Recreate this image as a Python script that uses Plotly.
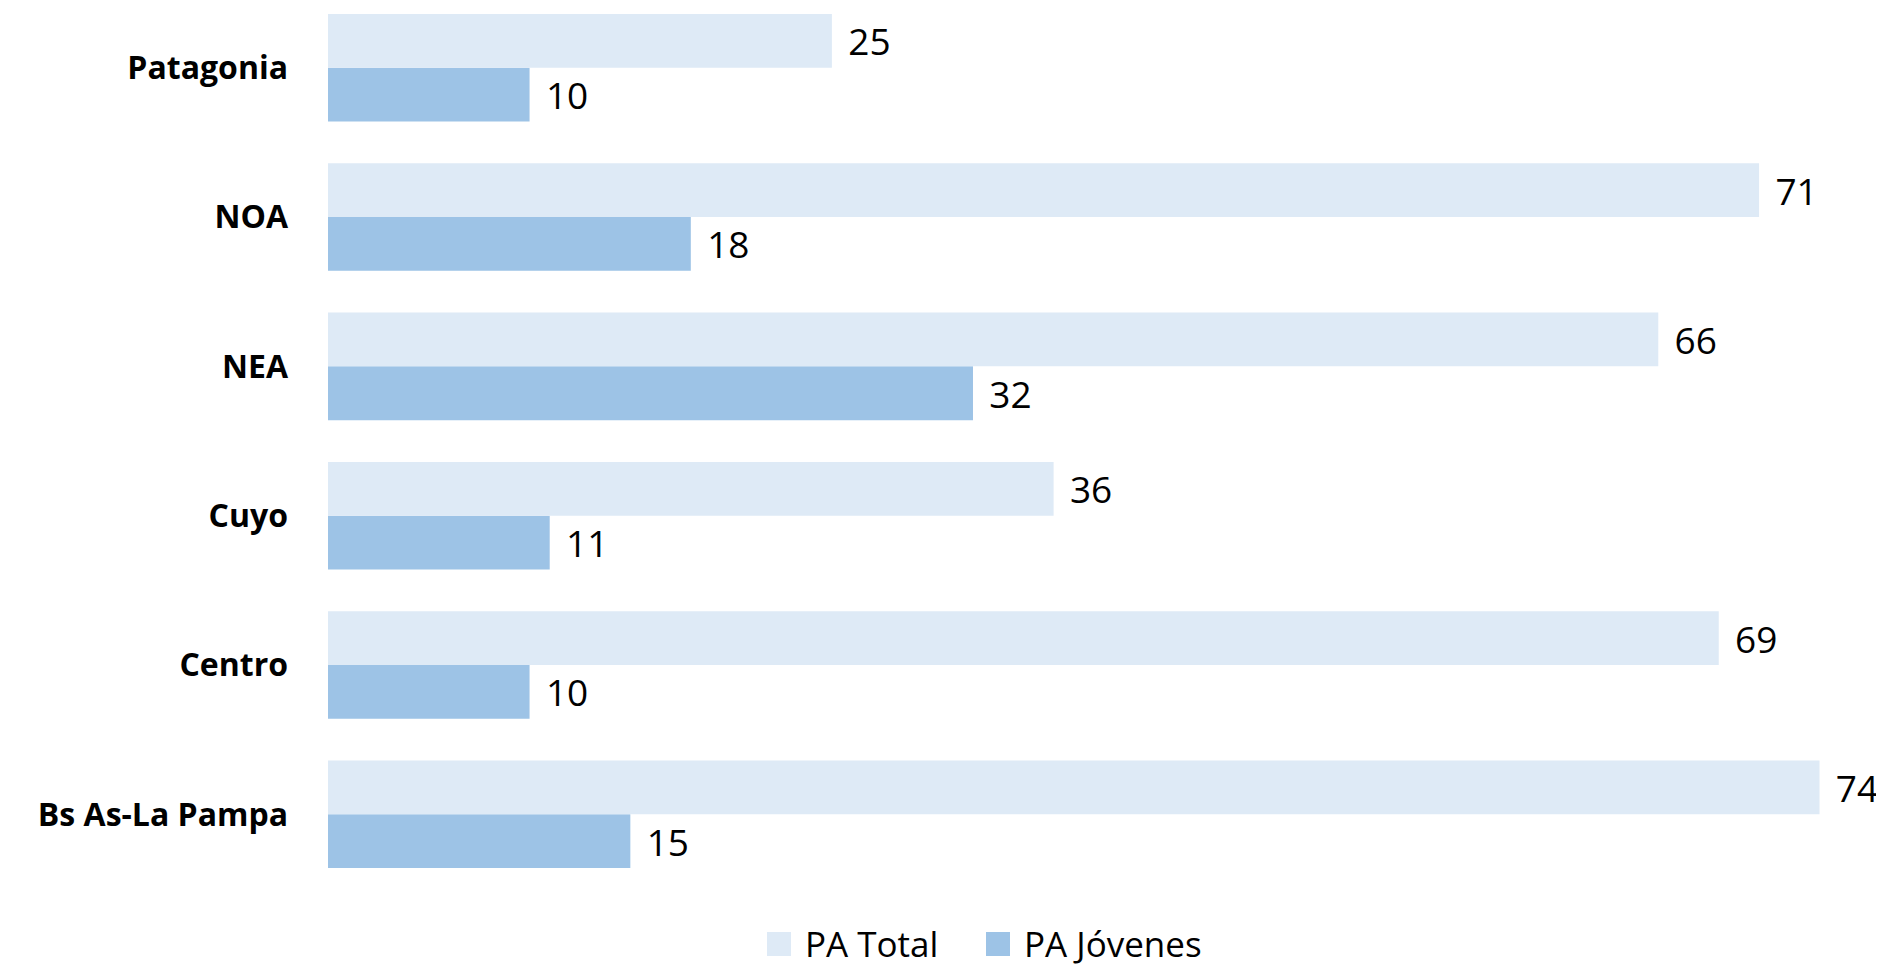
import plotly.graph_objects as go

categories = ["Bs As-La Pampa", "Centro", "Cuyo", "NEA", "NOA", "Patagonia"]
pa_total = [74, 69, 36, 66, 71, 25]
pa_jovenes = [15, 10, 11, 32, 18, 10]
series_names = ["PA Total", "PA Jóvenes"]

FONT = "Open Sans"
C_TOTAL = "#DEEAF6"
C_JOV = "#9DC3E6"

W, H = 1876, 961
ML, MR, MT, MB = 320, 4, 0, 80
PW, PH = W - ML - MR, H - MT - MB

fig = go.Figure()
fig.add_trace(go.Bar(
    y=categories, x=pa_jovenes, name=series_names[1], orientation="h",
    marker=dict(color=C_JOV, line=dict(width=0)),
    text=pa_jovenes, texttemplate="\u00a0\u200a%{text}", textposition="outside", cliponaxis=False,
    textfont=dict(family=FONT, size=37, color="#000000"),
    showlegend=False,
))
fig.add_trace(go.Bar(
    y=categories, x=pa_total, name=series_names[0], orientation="h",
    marker=dict(color=C_TOTAL, line=dict(width=0)),
    text=pa_total, texttemplate="\u00a0\u200a%{text}", textposition="outside", cliponaxis=False,
    textfont=dict(family=FONT, size=37, color="#000000"),
    showlegend=False,
))

# manual legend (larger swatches like the reference)
def px_x(v):
    return (v - ML) / PW

def px_y(v):
    return (MT + PH - v) / PH

legend_items = [(series_names[0], C_TOTAL, 759, 795), (series_names[1], C_JOV, 978, 1014)]
for name, col, sx, tx in legend_items:
    fig.add_shape(type="rect", xref="paper", yref="paper",
                  x0=px_x(sx), x1=px_x(sx + 24), y0=px_y(948), y1=px_y(924),
                  fillcolor=col, line=dict(width=0))
    fig.add_annotation(xref="paper", yref="paper", x=px_x(tx), y=px_y(935),
                       xanchor="left", yanchor="middle", text=name, showarrow=False,
                       font=dict(family=FONT, size=35, color="#000000"))

fig.update_layout(
    width=W, height=H,
    barmode="group", bargap=0.28, bargroupgap=0.0,
    plot_bgcolor="white", paper_bgcolor="white",
    margin=dict(l=ML, r=MR, t=MT, b=MB, autoexpand=False),
    font=dict(family=FONT, color="#000000"),
    xaxis=dict(range=[0, 77.0], showgrid=False, zeroline=False,
               showticklabels=False, showline=False, ticks=""),
    yaxis=dict(range=[-0.5, 5.4], showgrid=False, zeroline=False,
               showline=False, ticks="", ticklabelstandoff=39,
               tickfont=dict(family=FONT, size=32, color="#000000", weight="bold")),
    showlegend=False,
)

fig.write_html("out.html")
